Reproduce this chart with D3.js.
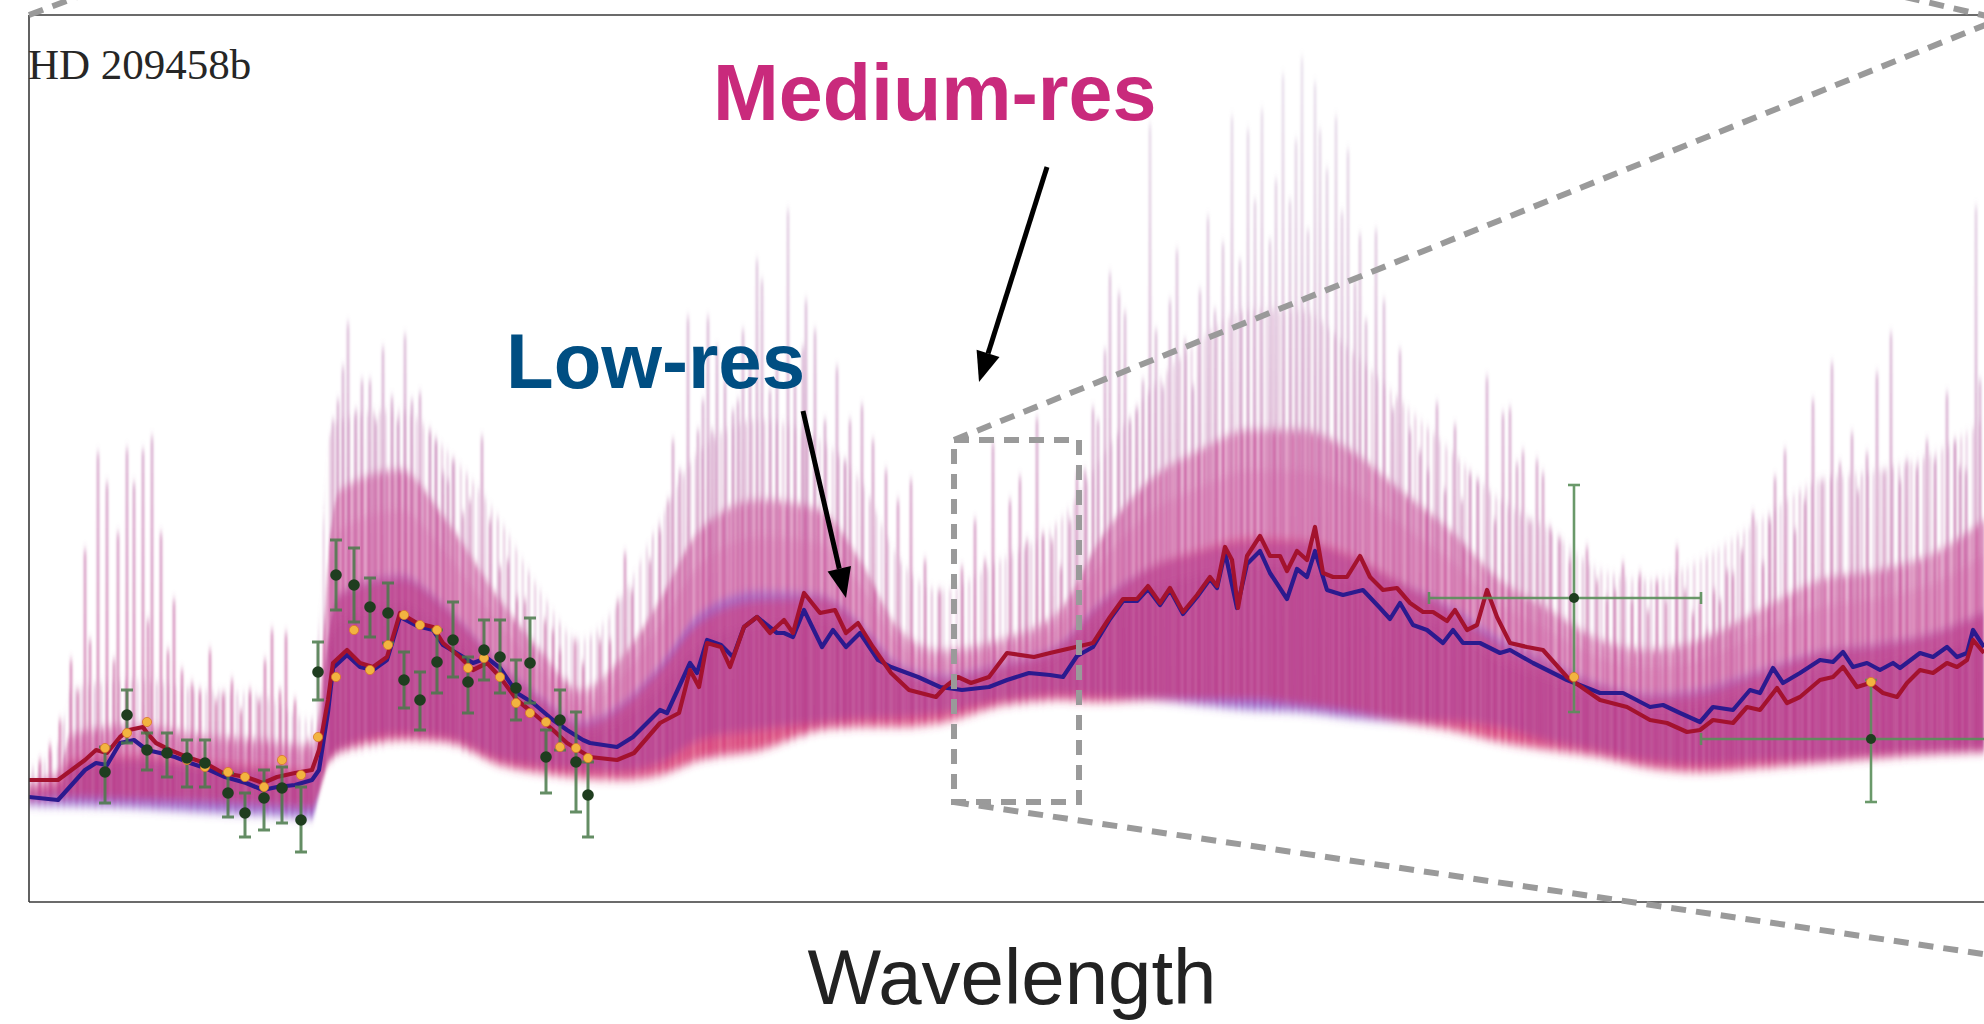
<!DOCTYPE html>
<html><head><meta charset="utf-8">
<script src="https://cdn.jsdelivr.net/npm/d3@7"></script>
<style>html,body{margin:0;padding:0;background:#fff;} svg{display:block;}</style>
</head><body>
<svg id="chart" width="1984" height="1024"></svg>
<script>
// ---------------- DATA (wavelength index, relative depth) ----------------
const bandX   = [2.9,6.0,7.0,13.5,20.0,26.0,31.2,32.0,32.8,34.0,40.0,44.6,50.0,54.0,58.0,62.0,66.0,70.0,76.0,82.0,86.0,90.0,94.0,100.0,106.0,110.0,115.0,120.0,125.0,130.0,135.0,140.0,145.0,150.0,155.0,160.0,165.0,170.0,176.0,182.0,188.0,194.0,198.4];
const blueLow = [19.5,19.4,19.4,19.2,18.8,18.5,18.2,21.0,23.8,25.0,26.5,26.2,24.0,23.3,23.0,22.8,23.7,26.0,27.0,27.7,28.1,28.2,28.6,29.9,30.5,30.3,30.0,29.5,29.0,28.8,28.2,27.8,27.8,27.2,25.8,24.8,23.8,23.5,23.8,24.0,24.5,24.8,25.0];
const redLow  = [20.0,20.2,20.2,20.0,19.8,19.5,19.2,21.0,23.6,24.8,26.0,25.8,23.5,22.7,22.2,22.0,22.5,24.0,25.0,27.0,27.3,27.3,27.7,29.4,30.0,29.8,30.0,30.0,30.0,29.5,28.8,27.8,27.0,25.8,25.0,24.3,23.2,22.8,23.2,23.7,24.2,24.6,24.8];
const coreTop = [21.8,23.0,26.5,27.5,26.5,26.0,25.5,30.0,44.0,51.0,53.0,48.0,40.0,35.0,31.0,34.0,40.0,47.0,50.0,49.0,44.0,37.0,35.0,36.0,39.0,46.0,52.0,55.0,57.0,57.0,55.0,51.0,47.0,42.0,39.0,36.0,35.0,36.0,39.0,42.0,43.0,45.0,48.0];
const haloTop = [23.0,26.0,31.0,32.0,31.0,30.5,28.0,40.0,56.0,58.0,59.0,55.0,48.0,41.0,36.0,40.0,48.0,55.0,58.0,56.0,52.0,44.0,41.0,44.0,48.0,54.0,61.0,66.0,69.0,69.0,65.0,60.0,55.0,50.0,47.0,43.0,42.0,44.0,48.0,52.0,53.0,55.0,58.0];

// medium-resolution spectral line peaks [wavelength, peak]
const spikes = [[4.0,24.0],[5.0,25.5],[6.0,28.0],[7.1,34.0],[7.8,31.0],[8.5,45.0],[9.0,36.0],[9.8,54.7],[10.7,51.7],[11.4,34.0],[11.8,46.7],[12.7,55.1],[13.4,51.7],[14.3,55.0],[14.8,38.0],[15.2,56.3],[16.1,46.7],[16.8,35.0],[17.4,40.0],[18.2,33.0],[19.2,31.7],[20.0,31.0],[21.0,35.0],[21.6,30.0],[22.3,30.7],[23.2,32.0],[24.1,29.0],[25.0,31.0],[25.9,30.0],[26.5,34.0],[27.2,37.0],[28.0,31.0],[28.6,36.7],[29.5,30.0],[30.8,26.0],
[33.3,58.0],[33.8,60.0],[34.3,63.3],[34.8,67.7],[35.6,59.0],[36.2,62.0],[37.0,62.0],[37.6,58.0],[38.3,65.2],[39.2,60.3],[39.8,58.0],[40.5,66.5],[41.2,60.0],[42.0,60.7],[43.0,57.0],[43.6,56.0],[44.3,52.7],[44.8,52.0],[45.3,54.0],[46.3,48.7],[47.0,50.0],[48.2,56.3],[49.0,48.0],[50.0,43.3],[50.8,44.0],[51.7,40.3],[52.5,40.0],[53.3,35.3],[54.5,38.0],[55.3,37.0],[56.0,35.0],[56.7,32.0],[57.5,36.0],[58.3,33.7],[59.3,28.7],[60.0,36.0],[61.0,36.0],[61.8,40.0],[62.5,44.7],[63.2,41.0],[64.3,37.0],[65.0,44.0],[66.0,47.0],[66.8,50.0],[67.3,56.0],[68.0,53.0],[68.8,68.3],[69.8,57.0],[70.3,60.0],[70.8,68.3],[71.2,57.0],[71.7,65.3],[72.5,62.0],[73.3,59.0],[73.8,60.0],[74.3,67.0],[75.0,64.0],[75.7,74.0],[76.2,72.0],[77.0,61.0],[77.7,63.7],[78.8,79.0],[79.5,62.0],[80.3,65.3],[80.6,70.0],[81.5,67.0],[82.5,58.0],[83.7,63.3],[84.5,54.0],[85.0,58.0],[86.2,59.5],[87.3,56.0],[88.6,53.0],[89.8,50.0],[91.1,52.0],[92.5,44.0],[94.0,41.0],
[96.2,43.3],[97.5,48.0],[98.5,44.0],[99.3,55.7],[101.0,50.0],[102.0,52.3],[102.7,46.0],[103.7,58.2],[104.3,46.7],[105.2,46.0],[106.1,43.3],[107.0,48.0],[107.7,52.7],[108.5,53.0],[109.3,59.2],[109.8,58.0],[110.5,65.0],[111.0,72.7],[111.9,70.7],[112.5,68.8],[113.0,58.0],[113.7,59.2],[114.3,62.0],[115.0,87.5],[115.6,67.0],[116.3,61.4],[117.0,70.0],[117.7,75.0],[118.5,66.0],[119.3,61.4],[120.0,71.0],[120.8,78.3],[121.5,69.0],[122.3,75.7],[123.2,88.3],[124.0,74.0],[124.8,87.0],[125.5,80.0],[126.2,89.0],[127.0,76.0],[127.6,82.0],[128.3,92.5],[129.0,80.0],[129.6,86.0],[130.2,94.2],[130.8,77.0],[131.5,91.7],[132.0,87.0],[132.7,83.1],[133.6,88.3],[134.2,78.8],[134.8,85.0],[135.5,72.0],[136.0,76.6],[136.6,68.0],[137.6,77.0],[138.4,70.0],[139.3,59.2],[140.0,65.0],[141.0,57.0],[142.0,54.9],[142.8,53.0],[143.7,59.7],[144.5,51.0],[145.5,57.5],[146.2,50.0],[147.0,52.7],[147.8,52.0],[148.7,62.3],[149.5,48.0],[150.3,58.7],[151.0,59.2],[151.7,53.7],[152.3,54.9],[153.0,48.0],[153.7,54.0],[154.3,52.7],[155.0,47.3],[156.0,46.2],[157.0,44.0],[158.7,45.3],[159.7,42.0],[160.7,40.3],[161.5,41.0],[162.3,43.7],[163.2,40.0],[164.0,42.7],[164.8,39.0],[165.7,42.0],[166.6,40.0],[167.7,45.3],[168.5,41.0],[169.3,38.7],[170.0,40.0],[170.7,37.0],[171.4,41.0],[172.0,40.0],[172.7,43.0],[173.3,42.7],[174.2,45.0],[175.3,48.7],[176.3,43.7],[177.0,48.0],[177.5,52.3],[178.5,55.0],[179.5,47.0],[180.5,50.0],[181.3,60.0],[182.2,52.0],[183.2,63.7],[184.0,53.7],[185.2,56.7],[185.8,51.0],[186.7,54.7],[187.7,62.7],[188.4,53.0],[189.1,66.7],[190.0,52.0],[190.7,54.0],[191.7,53.3],[192.7,56.0],[193.5,54.0],[194.7,60.7],[195.5,56.0],[196.0,53.3],[196.6,53.0],[197.6,79.3],[198.0,62.0]];

// smoothed (low-res) models
const redModel = [[2.9,22.0],[5.8,22.0],[8.5,24.0],[9.6,25.0],[10.7,24.7],[12.0,26.3],[12.9,27.0],[14.3,27.3],[14.7,26.7],[15.6,25.7],[17.0,25.0],[18.7,24.3],[20.5,23.7],[22.3,22.7],[24.6,22.3],[26.3,21.7],[27.7,22.3],[29.5,22.7],[31.2,23.0],[31.9,25.0],[32.8,30.0],[33.3,33.7],[34.7,35.0],[36.0,33.7],[37.3,33.3],[38.7,34.3],[40.0,38.7],[41.7,37.7],[43.3,37.3],[44.3,35.7],[46.0,34.3],[47.3,33.0],[48.7,33.7],[50.0,32.3],[51.7,30.0],[53.3,28.7],[55.3,27.0],[56.7,25.7],[59.0,24.3],[61.7,24.0],[63.4,24.7],[66.0,27.7],[67.9,28.7],[69.0,33.0],[69.9,31.3],[70.7,35.7],[72.1,35.3],[73.0,33.3],[74.4,37.3],[75.7,38.3],[77.0,36.7],[78.4,38.0],[79.3,36.7],[80.4,40.7],[82.0,38.7],[83.5,39.0],[84.6,36.7],[85.8,37.7],[87.3,35.3],[89.1,32.7],[90.9,31.0],[93.6,30.3],[94.5,31.3],[95.8,32.3],[97.1,31.7],[98.9,32.3],[100.7,34.7],[103.4,34.3],[105.0,34.7],[109.3,35.7],[111.0,38.3],[112.3,40.1],[113.7,40.1],[114.8,41.4],[116.0,39.7],[117.0,41.2],[118.3,38.8],[119.7,40.5],[121.0,42.3],[121.7,41.4],[122.5,45.3],[123.2,44.0],[123.8,39.2],[124.7,44.4],[126.0,46.4],[127.0,44.4],[128.0,44.4],[128.7,42.9],[129.7,44.9],[130.7,44.0],[131.5,47.3],[132.3,42.7],[133.3,42.3],[134.7,42.3],[136.0,44.4],[137.0,42.3],[138.3,41.0],[139.7,41.2],[141.0,39.7],[142.3,38.8],[143.3,38.8],[144.7,37.9],[145.5,39.0],[146.7,37.0],[147.7,37.5],[148.7,41.0],[149.7,38.3],[151.0,35.7],[152.7,35.3],[154.3,35.0],[156.7,32.3],[160.0,30.0],[162.7,29.3],[165.0,28.0],[166.7,27.7],[168.7,26.8],[170.0,27.0],[171.3,28.0],[173.3,27.7],[174.7,29.3],[176.0,29.0],[177.7,31.2],[178.7,29.7],[180.0,30.3],[182.0,32.0],[183.3,32.3],[184.3,33.3],[185.7,31.3],[187.0,31.7],[188.3,30.7],[189.7,30.3],[190.7,31.7],[192.0,33.0],[193.3,32.7],[194.7,33.7],[195.7,33.3],[196.7,34.0],[197.3,36.0],[198.4,34.7]];
const blueModel = [[2.9,20.3],[5.8,20.0],[8.5,23.0],[9.6,23.7],[10.7,23.5],[12.0,25.7],[13.4,26.0],[14.7,25.0],[16.0,24.7],[17.5,24.3],[19.0,23.7],[20.5,23.2],[22.5,22.3],[24.6,21.7],[26.3,21.0],[27.7,21.3],[29.5,21.5],[31.2,22.0],[31.9,23.0],[32.8,28.8],[33.3,33.2],[34.7,34.5],[36.0,33.3],[37.3,33.0],[38.7,34.0],[40.0,38.3],[41.7,37.4],[43.3,37.0],[44.3,35.5],[46.0,34.5],[47.3,33.7],[48.7,34.2],[50.0,33.2],[51.7,30.7],[53.3,29.7],[55.3,28.0],[56.7,27.0],[58.3,26.0],[59.0,25.7],[61.7,25.3],[63.3,26.3],[66.0,29.0],[66.7,28.7],[69.0,33.7],[69.7,32.7],[70.7,36.0],[72.1,35.5],[73.3,34.3],[74.4,37.3],[75.7,38.3],[77.7,36.7],[78.4,36.7],[79.3,36.3],[80.4,39.0],[82.2,35.3],[83.3,37.0],[84.6,35.3],[86.0,36.7],[87.8,34.0],[89.1,33.3],[91.8,32.3],[94.0,31.3],[96.2,31.0],[98.9,31.3],[100.7,32.0],[102.9,32.7],[105.0,32.5],[106.3,32.3],[107.7,34.4],[109.3,35.3],[111.0,38.1],[112.3,39.9],[113.7,39.9],[114.8,41.1],[116.0,39.5],[117.0,41.0],[118.3,38.6],[119.7,40.3],[121.0,42.1],[121.7,41.2],[122.5,44.8],[123.7,39.2],[124.7,43.6],[126.0,44.9],[127.0,42.7],[128.7,40.1],[129.7,43.1],[130.7,42.3],[131.5,44.9],[132.7,41.0],[134.3,40.5],[136.3,41.0],[138.0,39.2],[139.0,38.1],[140.0,39.7],[141.3,37.5],[142.7,37.0],[144.3,35.7],[145.3,37.0],[146.3,35.7],[148.0,35.7],[150.0,34.7],[151.0,35.0],[153.3,33.7],[156.7,32.0],[160.0,30.7],[162.3,30.7],[165.0,29.3],[166.3,29.5],[168.0,28.7],[170.0,27.8],[171.3,29.3],[173.3,29.0],[175.0,31.0],[176.0,30.7],[177.3,33.2],[178.3,31.7],[180.0,32.7],[182.0,34.0],[183.3,33.8],[184.3,34.8],[185.3,33.3],[186.7,33.7],[188.0,33.0],[189.3,33.7],[190.0,33.2],[192.0,34.7],[193.3,34.3],[194.7,35.3],[195.7,34.3],[196.7,34.7],[197.3,37.0],[198.4,35.3]];

// observed low-res points with error bars
const obsX    = [10.5,12.7,14.7,16.7,18.7,20.5,22.8,24.5,26.4,28.2,30.1,31.8,33.6,35.4,37.0,38.8,40.4,42.0,43.7,45.3,46.8,48.4,50.0,51.6,53.0,54.6,56.0,57.6,58.8];
const obsY    = [22.8,28.5,25.0,24.7,24.2,23.7,20.7,18.7,20.2,21.2,18.0,32.8,42.5,41.5,39.3,38.7,32.0,30.0,33.8,36.0,31.8,35.0,34.3,31.2,33.7,24.3,28.0,23.8,20.5];
const obsHi   = [25.3,31.0,26.7,26.7,26.0,26.0,22.7,20.7,23.0,23.3,21.3,35.8,46.0,45.2,42.2,41.7,34.8,32.8,37.0,39.8,34.3,38.0,38.0,34.0,38.2,27.0,31.0,28.8,23.8];
const obsLo   = [19.7,25.7,23.0,22.3,21.3,21.3,18.3,16.3,17.0,17.7,14.8,30.0,39.0,37.8,36.3,35.7,29.2,27.0,30.7,32.3,28.7,32.0,30.7,28.0,29.7,20.7,25.0,18.8,16.3];
const binnedY = [25.2,26.7,27.8,24.7,24.0,23.3,22.8,22.3,21.3,24.0,22.5,26.3,32.3,37.0,33.0,35.5,38.5,37.5,37.0,36.0,33.2,34.2,32.3,29.7,28.7,27.8,25.3,25.2,24.2];
// wide photometric bins
const wideX   = [157.4,187.1];
const wideY   = [40.2,26.1];
const wideHi  = [51.5,32.0];
const wideLo  = [28.8,19.8];
const wideXlo = [142.9,170.1];
const wideXhi = [170.1,204.1];
const wideBin = [32.3,31.8];

// ---------------- CHART ----------------
const W = 1984, H = 1024;
const svg = d3.select('#chart');
const x = d3.scaleLinear().domain([2.9, 198.4]).range([29, 1984]);
const y = d3.scaleLinear().domain([9.8, 98.5]).range([902, 15]);

const defs = svg.append('defs');
defs.append('clipPath').attr('id','plotclip').append('rect')
  .attr('x',29).attr('y',15).attr('width',W).attr('height',887);
const grad = defs.append('linearGradient').attr('id','spikeGrad')
  .attr('gradientUnits','userSpaceOnUse').attr('x1',0).attr('x2',0)
  .attr('y1',y(95)).attr('y2',y(25));
grad.append('stop').attr('offset',0).attr('stop-color','#b9a2c6').attr('stop-opacity',0.3);
grad.append('stop').attr('offset',0.5).attr('stop-color','#b46aa8').attr('stop-opacity',0.5);
grad.append('stop').attr('offset',1).attr('stop-color','#c2428c').attr('stop-opacity',0.65);
// anisotropic blur: soft vertical fade, crisp vertical streaks
defs.append('filter').attr('id','soft').attr('x','-2%').attr('y','-15%').attr('width','104%').attr('height','130%')
  .append('feGaussianBlur').attr('stdDeviation','0.9 5');

// stripe patterns giving the dense line-forest texture
function stripes(id, w, specs, color, bgOp){
  const p = defs.append('pattern').attr('id',id).attr('patternUnits','userSpaceOnUse')
    .attr('width',w).attr('height',8);
  p.append('rect').attr('width',w).attr('height',8).attr('fill',color).attr('opacity',bgOp);
  specs.forEach(s=>p.append('rect').attr('x',s[0]).attr('y',0).attr('width',s[1]).attr('height',8)
    .attr('fill',color).attr('opacity',s[2]));
}
stripes('coreStripe', 19, [[0,2.2,.8],[3.5,1.2,.5],[6,2.8,.65],[10.5,1.4,.75],[13,2.4,.5],[16.5,1.2,.6]], '#c84c96', 0.22);
stripes('haloStripe', 31, [[1,1.6,.5],[7,2.2,.3],[13,1.2,.45],[19,2.4,.28],[26,1.4,.4]], '#b868a8', 0.02);

const plot = svg.append('g').attr('clip-path','url(#plotclip)');
const spec = plot.append('g').attr('filter','url(#soft)');
const idx = bandX.map((d,i)=>i);
const lowMin = i => Math.min(blueLow[i], redLow[i]);
const part = (lo, top, f) => lo + f*(top - lo);

// halo (sparse line forest)
spec.append('path').datum(idx)
  .attr('d', d3.area().x(i=>x(bandX[i])).y0(i=>y(lowMin(i))).y1(i=>y(haloTop[i])).curve(d3.curveMonotoneX))
  .attr('fill','url(#haloStripe)');
// spikes
const baseAt = d3.scaleLinear().domain(bandX).range(redLow);
spec.append('g').selectAll('line').data(spikes).join('line')
  .attr('x1',d=>x(d[0])).attr('x2',d=>x(d[0]))
  .attr('y1',d=>y(d[1])).attr('y2',d=>y(baseAt(d[0])))
  .attr('stroke','url(#spikeGrad)').attr('stroke-width',2.6);
// core forest
spec.append('path').datum(idx)
  .attr('d', d3.area().x(i=>x(bandX[i])).y0(i=>y(lowMin(i))).y1(i=>y(coreTop[i])).curve(d3.curveMonotoneX))
  .attr('fill','url(#coreStripe)');
// dense continuum region (blue + red spectra overlapping)
spec.append('path').datum(idx)
  .attr('d', d3.area().x(i=>x(bandX[i])).y0(i=>y(blueLow[i])).y1(i=>y(part(blueLow[i],coreTop[i],0.6))).curve(d3.curveMonotoneX))
  .attr('fill','#4646e6').attr('opacity',0.42);
spec.append('path').datum(idx)
  .attr('d', d3.area().x(i=>x(bandX[i])).y0(i=>y(redLow[i])).y1(i=>y(part(redLow[i],coreTop[i],0.6))).curve(d3.curveMonotoneX))
  .attr('fill','#e62a58').attr('opacity',0.47);
spec.append('path').datum(idx)
  .attr('d', d3.area().x(i=>x(bandX[i])).y0(i=>y(part(redLow[i],coreTop[i],0.5))).y1(i=>y(part(redLow[i],coreTop[i],0.85))).curve(d3.curveMonotoneX))
  .attr('fill','#d060a4').attr('opacity',0.25);

// models
const line = d3.line().x(d=>x(d[0])).y(d=>y(d[1]));
plot.append('path').datum(blueModel).attr('d',line).attr('fill','none')
  .attr('stroke','#2b1a8e').attr('stroke-width',4.2).attr('stroke-linejoin','round');
plot.append('path').datum(redModel).attr('d',line).attr('fill','none')
  .attr('stroke','#a3122e').attr('stroke-width',4.2).attr('stroke-linejoin','round');

// error bars
const eb = plot.append('g').attr('stroke','#4a7a4a').attr('stroke-width',3).attr('opacity',0.85);
obsX.forEach((ox,i)=>{
  eb.append('line').attr('x1',x(ox)).attr('x2',x(ox)).attr('y1',y(obsHi[i])).attr('y2',y(obsLo[i]));
  eb.append('line').attr('x1',x(ox)-6).attr('x2',x(ox)+6).attr('y1',y(obsHi[i])).attr('y2',y(obsHi[i]));
  eb.append('line').attr('x1',x(ox)-6).attr('x2',x(ox)+6).attr('y1',y(obsLo[i])).attr('y2',y(obsLo[i]));
});
const wb = plot.append('g').attr('stroke','#5a8f5a').attr('stroke-width',2.6).attr('opacity',0.9);
wideX.forEach((wx,i)=>{
  wb.append('line').attr('x1',x(wx)).attr('x2',x(wx)).attr('y1',y(wideHi[i])).attr('y2',y(wideLo[i]));
  wb.append('line').attr('x1',x(wideXlo[i])).attr('x2',x(wideXhi[i])).attr('y1',y(wideY[i])).attr('y2',y(wideY[i]));
  wb.append('line').attr('x1',x(wx)-6).attr('x2',x(wx)+6).attr('y1',y(wideHi[i])).attr('y2',y(wideHi[i]));
  wb.append('line').attr('x1',x(wx)-6).attr('x2',x(wx)+6).attr('y1',y(wideLo[i])).attr('y2',y(wideLo[i]));
  wb.append('line').attr('x1',x(wideXlo[i])).attr('x2',x(wideXlo[i])).attr('y1',y(wideY[i])-6).attr('y2',y(wideY[i])+6);
  wb.append('line').attr('x1',x(wideXhi[i])).attr('x2',x(wideXhi[i])).attr('y1',y(wideY[i])-6).attr('y2',y(wideY[i])+6);
});
// binned model dots
plot.append('g').selectAll('circle').data(obsX).join('circle')
  .attr('cx',d=>x(d)).attr('cy',(d,i)=>y(binnedY[i])).attr('r',4.6)
  .attr('fill','#f2b440').attr('stroke','#d9772a').attr('stroke-width',0.8);
plot.append('g').selectAll('circle').data(wideX).join('circle')
  .attr('cx',d=>x(d)).attr('cy',(d,i)=>y(wideBin[i])).attr('r',4.6)
  .attr('fill','#f2b440').attr('stroke','#d9772a').attr('stroke-width',0.8);
// observed markers
plot.append('g').selectAll('circle').data(obsX).join('circle')
  .attr('cx',d=>x(d)).attr('cy',(d,i)=>y(obsY[i])).attr('r',5.8)
  .attr('fill','#1f3d1f');
plot.append('g').selectAll('circle').data(wideX).join('circle')
  .attr('cx',d=>x(d)).attr('cy',(d,i)=>y(wideY[i])).attr('r',5)
  .attr('fill','#1f3d1f');

// frame
const fr = svg.append('g').attr('stroke','#3a3a3a').attr('stroke-width',1.6).attr('fill','none');
fr.append('line').attr('x1',29).attr('x2',29).attr('y1',15).attr('y2',902);
fr.append('line').attr('x1',29).attr('x2',W+5).attr('y1',15).attr('y2',15);
fr.append('line').attr('x1',29).attr('x2',W+5).attr('y1',902).attr('y2',902);

// zoom box & connector lines (annotation)
const dash = svg.append('g').attr('stroke','#9a9a9a').attr('stroke-width',6)
  .attr('stroke-dasharray','15 10').attr('fill','none');
dash.append('rect').attr('x',954).attr('y',440).attr('width',125).attr('height',362);
dash.append('line').attr('x1',954).attr('y1',440).attr('x2',2010).attr('y2',15);
dash.append('line').attr('x1',954).attr('y1',802).attr('x2',2010).attr('y2',958);
dash.append('line').attr('x1',29).attr('y1',15).attr('x2',80).attr('y2',-4);
dash.append('line').attr('x1',1905).attr('y1',-3).attr('x2',1995).attr('y2',18);

// labels
svg.append('text').attr('x',28).attr('y',79).text('HD 209458b')
  .attr('font-family','Liberation Serif, DejaVu Serif, serif').attr('font-size',43)
  .attr('fill','#262626');
svg.append('text').attr('x',713).attr('y',120).text('Medium-res')
  .attr('font-family','Liberation Sans, Arial, sans-serif').attr('font-weight','bold')
  .attr('font-size',79).attr('fill','#c92a7c');
svg.append('text').attr('x',506).attr('y',388).text('Low-res')
  .attr('font-family','Liberation Sans, Arial, sans-serif').attr('font-weight','bold')
  .attr('font-size',78).attr('fill','#004e82');
svg.append('text').attr('x',1012).attr('y',1004).attr('text-anchor','middle').text('Wavelength')
  .attr('font-family','Liberation Sans, Arial, sans-serif').attr('font-size',78).attr('fill','#222');

// arrows
function arrow(x1,y1,x2,y2){
  const a = Math.atan2(y2-y1,x2-x1), L = 30, Wd = 12;
  const bx = x2 - L*Math.cos(a), by = y2 - L*Math.sin(a);
  svg.append('line').attr('x1',x1).attr('y1',y1).attr('x2',bx).attr('y2',by)
    .attr('stroke','#000').attr('stroke-width',5);
  const px = -Math.sin(a)*Wd, py = Math.cos(a)*Wd;
  svg.append('polygon').attr('points',[[x2,y2],[bx+px,by+py],[bx-px,by-py]].map(p=>p.join(',')).join(' '))
    .attr('fill','#000');
}
arrow(1047,167,979,382);
arrow(803,411,846,598);
</script></body></html>
